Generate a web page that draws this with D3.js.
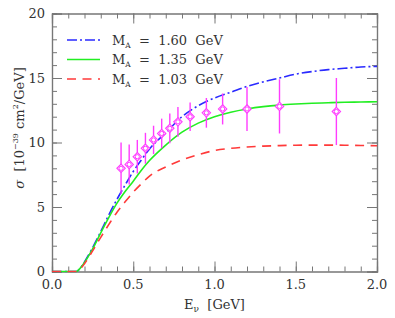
<!DOCTYPE html>
<html><head><meta charset="utf-8">
<script src="https://cdn.jsdelivr.net/npm/d3@7"></script>
<style>body{margin:0;background:#fff}svg{display:block}text{font-family:"DejaVu Serif","Liberation Serif",serif;fill:#333}</style>
</head><body><svg id="c" width="395" height="318"></svg>
<script>
// ---- data ----
const energyGrid = [0,0.1,0.15,0.17,0.2,0.25,0.3,0.35,0.4,0.45,0.5,0.55,0.6,0.7,0.8,0.9,1.0,1.1,1.2,1.3,1.4,1.5,1.6,1.7,1.8,1.9,2.0];
const sigmaMA160 = [0,0,0,0.2,0.75,1.85,3.1,4.4,5.6,6.7,7.75,8.65,9.5,10.75,12.0,12.85,13.45,13.9,14.35,14.7,15.0,15.3,15.5,15.65,15.75,15.85,15.9];
const sigmaMA135 = [0,0,0,0.2,0.7,1.75,3.0,4.2,5.3,6.2,7.0,7.85,8.6,9.8,10.8,11.5,12.0,12.35,12.6,12.78,12.9,12.98,13.04,13.08,13.12,13.14,13.16];
const sigmaMA103 = [0,0,0,0.15,0.6,1.6,2.65,3.65,4.6,5.4,6.15,6.8,7.4,8.1,8.65,9.05,9.38,9.55,9.65,9.72,9.76,9.79,9.8,9.8,9.79,9.77,9.75];
const dataE     = [0.425,0.475,0.525,0.575,0.625,0.675,0.725,0.775,0.85,0.95,1.05,1.2,1.4,1.75];
const dataSigma = [8.0,8.3,8.9,9.55,10.2,10.7,11.1,11.6,12.0,12.3,12.6,12.6,12.8,12.4];
const dataErr   = [2.0,1.55,1.3,1.2,1.1,1.15,1.15,1.15,1.1,1.15,1.2,1.7,2.1,2.6];
const legendLabels = ["1.60","1.35","1.03"];
const xTicks = [0,0.5,1.0,1.5,2.0];
const yTicks = [0,5,10,15,20];

// ---- layout ----
const svg = d3.select("#c");
const L=52, R=377, T=13.5, B=271.5;
const x = d3.scaleLinear().domain([0,2]).range([L,R]);
const y = d3.scaleLinear().domain([0,20]).range([B,T]);
const axisColor="#777";

function drawAxis(gen, tx, ty){
  const g = svg.append("g").attr("transform",`translate(${tx},${ty})`).call(gen);
  g.selectAll(".domain").attr("stroke",axisColor).attr("stroke-width",1.2);
  g.selectAll(".tick line").attr("stroke",axisColor).attr("stroke-width",1);
  g.selectAll(".tick text").remove();
  return g;
}
const xMinor = d3.range(0,2.0001,0.1), yMinor = d3.range(0,20.001,1);
drawAxis(d3.axisBottom(x).tickValues(xMinor).tickSize(-5), 0, B);
drawAxis(d3.axisBottom(x).tickValues(xTicks).tickSize(-10), 0, B);
drawAxis(d3.axisTop(x).tickValues(xMinor).tickSize(-5), 0, T);
drawAxis(d3.axisTop(x).tickValues(xTicks).tickSize(-10), 0, T);
drawAxis(d3.axisLeft(y).tickValues(yMinor).tickSize(-5), L, 0);
drawAxis(d3.axisLeft(y).tickValues(yTicks).tickSize(-10), L, 0);
drawAxis(d3.axisRight(y).tickValues(yMinor).tickSize(-5), R, 0);
drawAxis(d3.axisRight(y).tickValues(yTicks).tickSize(-10), R, 0);

// tick labels
svg.append("g").selectAll("text").data(xTicks).join("text")
  .attr("x",d=>x(d)).attr("y",B+17).attr("text-anchor","middle").attr("font-size",13)
  .text(d=>d.toFixed(1));
svg.append("g").selectAll("text").data(yTicks).join("text")
  .attr("x",L-7).attr("y",d=>y(d)+4.5).attr("text-anchor","end").attr("font-size",13)
  .text(d=>d);

// axis titles
const xt = svg.append("text").attr("x",x(1.0)).attr("y",309).attr("text-anchor","middle").attr("font-size",13).attr("xml:space","preserve");
xt.append("tspan").text("E");
xt.append("tspan").attr("dy",3).attr("font-size",9).text("ν");
xt.append("tspan").attr("dy",-3).text("  [GeV]");
const yt = svg.append("text").attr("transform",`translate(24,128) rotate(-90)`).attr("text-anchor","middle").attr("font-size",13).attr("xml:space","preserve");
yt.append("tspan").attr("font-style","italic").text("σ");
yt.append("tspan").text("  [10");
yt.append("tspan").attr("dy",-6).attr("font-size",8).text("−39");
yt.append("tspan").attr("dy",6).text(" cm");
yt.append("tspan").attr("dy",-6).attr("font-size",8).text("2");
yt.append("tspan").attr("dy",6).text("/GeV]");

// curves
const series = [
  {vals:sigmaMA160, color:"#2a2aff", dash:"10,3,2,3"},
  {vals:sigmaMA135, color:"#22ee22", dash:null},
  {vals:sigmaMA103, color:"#ff3a3a", dash:"9,6.5"}
];
const line = d3.line().x(d=>x(d[0])).y(d=>y(d[1])).curve(d3.curveMonotoneX);
svg.append("clipPath").attr("id","clipP").append("rect").attr("x",L).attr("y",T).attr("width",R-L).attr("height",B-T+1);
const cg = svg.append("g").attr("clip-path","url(#clipP)");
series.forEach(s=>{
  const p = cg.append("path").datum(energyGrid.map((e,i)=>[e,s.vals[i]]))
    .attr("d",line).attr("fill","none").attr("stroke",s.color).attr("stroke-width",1.6);
  if(s.dash) p.attr("stroke-dasharray",s.dash);
});

// data points
const mag="#ff3cff";
const pts = svg.append("g");
dataE.forEach((e,i)=>{
  const cx=x(e), cy=y(dataSigma[i]);
  pts.append("line").attr("x1",cx).attr("x2",cx)
    .attr("y1",y(dataSigma[i]-dataErr[i])).attr("y2",y(dataSigma[i]+dataErr[i]))
    .attr("stroke",mag).attr("stroke-width",1.4);
  pts.append("path").attr("d",`M${cx},${cy-4.2}L${cx+4.2},${cy}L${cx},${cy+4.2}L${cx-4.2},${cy}Z`)
    .attr("fill","#fff").attr("stroke",mag).attr("stroke-width",1.1);
  pts.append("circle").attr("cx",cx).attr("cy",cy).attr("r",2.1).attr("fill","none").attr("stroke",mag).attr("stroke-width",1);
});

// legend
const legY=[40,59.5,79];
series.forEach((s,i)=>{
  const l = svg.append("line").attr("x1",67).attr("x2",100).attr("y1",legY[i]).attr("y2",legY[i])
    .attr("stroke",s.color).attr("stroke-width",1.6);
  if(s.dash) l.attr("stroke-dasharray",s.dash);
  const t = svg.append("text").attr("x",112).attr("y",legY[i]+4.5).attr("font-size",13).attr("xml:space","preserve");
  t.append("tspan").text("M");
  t.append("tspan").attr("dy",3).attr("font-size",7.5).text("A");
  t.append("tspan").attr("dy",-3).text("  =  " + legendLabels[i] + "  GeV");
});
</script></body></html>
